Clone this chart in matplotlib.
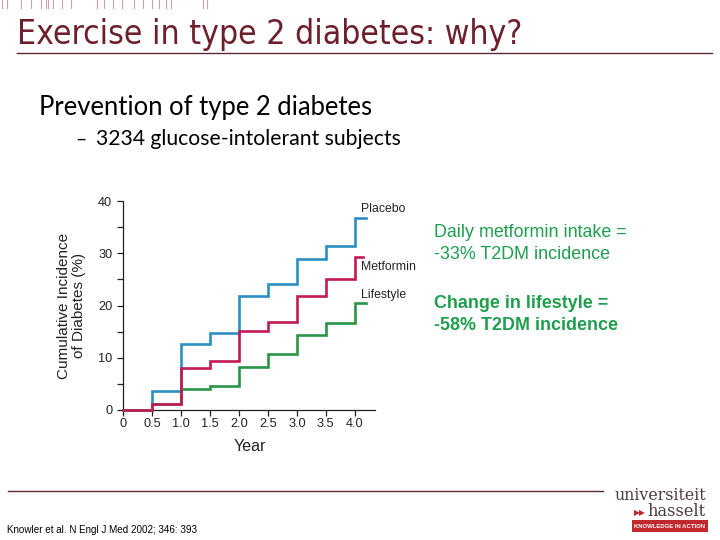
import matplotlib
matplotlib.use("Agg")
import matplotlib.pyplot as plt
from matplotlib.lines import Line2D
from matplotlib.patches import Rectangle

# ---------------- data ----------------
years = [0, 0.5, 1.0, 1.5, 2.0, 2.5, 3.0, 3.5, 4.0]
placebo = [0, 3.6, 12.6, 14.7, 21.8, 24.1, 28.9, 31.4, 36.8]
metformin = [0, 1.1, 8.0, 9.4, 15.2, 16.8, 21.8, 25.0, 29.3]
lifestyle = [0, 1.1, 4.0, 4.6, 8.3, 10.7, 14.3, 16.7, 20.4]
series_names = ["Placebo", "Metformin", "Lifestyle"]
series_end = [4.2, 4.14, 4.2]
label_y = [38.4, 27.3, 22.0]
x_ticks = [0, 0.5, 1.0, 1.5, 2.0, 2.5, 3.0, 3.5, 4.0]
x_tick_labels = ["0", "0.5", "1.0", "1.5", "2.0", "2.5", "3.0", "3.5", "4.0"]
y_ticks = [0, 10, 20, 30, 40]

W, H = 720, 540
fig = plt.figure(figsize=(W / 100, H / 100), dpi=100)


def fx(x):
    return x / W


def fy(y):
    return 1 - y / H


renderer = fig.canvas.get_renderer()


def fit_width(t, width_px):
    bb = t.get_window_extent(renderer)
    t.set_fontsize(t.get_fontsize() * width_px / bb.width)


# ---------------- slide decoration ----------------
deco_x = [2, 7, 21, 31, 41, 46, 48, 53, 62, 71, 97, 104, 113, 122, 134, 143,
          152, 159, 166, 171, 203, 207]
for xx in deco_x:
    fig.add_artist(Line2D([fx(xx), fx(xx)], [fy(0), fy(8)], color="#c9a3a8",
                          lw=0.8))

maroon = "#6d1f2c"
t = fig.text(fx(17), fy(44), "Exercise in type 2 diabetes: why?", color=maroon,
             family="DejaVu Sans", fontstretch="condensed", fontsize=20,
             va="baseline", ha="left")
fit_width(t, 505)
fig.add_artist(Line2D([fx(17), fx(712)], [fy(52.5), fy(52.5)], color="#5a2a30",
                      lw=1.0))

t = fig.text(fx(39), fy(115), "Prevention of type 2 diabetes", color="black",
             family="Lato", fontsize=16, va="baseline", ha="left")
fit_width(t, 334)
fig.text(fx(75), fy(145), "–", color="black", family="Lato", fontsize=14,
         va="baseline", ha="left")
t = fig.text(fx(96), fy(145), "3234 glucose-intolerant subjects", color="black",
             family="Lato", fontsize=13, va="baseline", ha="left")
fit_width(t, 303)

green_txt = "#1f9e4e"
fig.text(fx(434), fy(237), "Daily metformin intake =", color=green_txt,
         family="Liberation Sans", fontsize=12.9, va="baseline", ha="left")
fig.text(fx(434), fy(259), "-33% T2DM incidence", color=green_txt,
         family="Liberation Sans", fontsize=12.9, va="baseline", ha="left")
fig.text(fx(434), fy(308), "Change in lifestyle =", color=green_txt,
         family="Liberation Sans", fontsize=12.9, va="baseline", ha="left",
         fontweight="bold")
fig.text(fx(434), fy(330), "-58% T2DM incidence", color=green_txt,
         family="Liberation Sans", fontsize=12.9, va="baseline", ha="left",
         fontweight="bold")

fig.add_artist(Line2D([fx(8), fx(603)], [fy(491), fy(491)], color="#5a2a30",
                      lw=1.0))
t = fig.text(fx(7), fy(533), "Knowler et al. N Engl J Med 2002; 346: 393",
             color="black", family="Liberation Sans", fontsize=7,
             va="baseline", ha="left")
fit_width(t, 191)

# logo
logo_col = "#4b3b3d"
t = fig.text(fx(706), fy(500), "universiteit", color=logo_col,
             family="DejaVu Serif", fontsize=11, va="baseline", ha="right")
fit_width(t, 92)
t = fig.text(fx(706), fy(516), "hasselt", color=logo_col,
             family="DejaVu Serif", fontsize=11, va="baseline", ha="right")
fit_width(t, 58)
fig.text(fx(646), fy(515), "▶▶", color="#c0282d", family="DejaVu Sans",
         fontsize=5.5, va="baseline", ha="right")
fig.add_artist(Rectangle((fx(632), fy(532)), fx(708) - fx(632),
                         fy(520) - fy(532), transform=fig.transFigure,
                         color="#c0282d", lw=0))
t = fig.text(fx(670), fy(526), "KNOWLEDGE IN ACTION", color="white",
             family="Liberation Sans", fontsize=4.5, va="center", ha="center",
             fontweight="bold")
fit_width(t, 72)

# ---------------- chart ----------------
ax_left, ax_right = 123.3, 375.0
ax_top, ax_bot = 201.0, 410.0
ax = fig.add_axes([fx(ax_left), fy(ax_bot), (ax_right - ax_left) / W,
                   (ax_bot - ax_top) / H])
ax.set_xlim(0, 4.35)
ax.set_ylim(0, 40)

colors = ["#2b8fc2", "#c21a52", "#2a9446"]
all_series = [placebo, metformin, lifestyle]
zorders = [3, 4, 2]
for name, vals, col, xe, zo, ly in zip(series_names, all_series, colors,
                                       series_end, zorders, label_y):
    xs = years + [xe]
    ys = vals + [vals[-1]]
    ax.step(xs, ys, where="post", color=col, lw=1.9, zorder=zo, clip_on=False,
            solid_joinstyle="miter")
    ax.text(4.1, ly, name, color="#222222", family="Liberation Sans",
            fontsize=8.8, va="center", ha="left")

for s in ["top", "right"]:
    ax.spines[s].set_visible(False)
for s in ["left", "bottom"]:
    ax.spines[s].set_linewidth(0.9)
    ax.spines[s].set_color("#222222")

ax.set_xticks(x_ticks)
ax.set_xticklabels(x_tick_labels)
ax.set_yticks(y_ticks)
ax.set_yticks([5, 15, 25, 35], minor=True)
ax.tick_params(axis="both", which="both", direction="out", length=4,
               width=0.9, colors="#222222", labelsize=9.2)
ax.tick_params(axis="x", pad=2)
ax.tick_params(axis="y", pad=4)
for lab in ax.get_xticklabels() + ax.get_yticklabels():
    lab.set_family("Liberation Sans")

ax.set_xlabel("Year", family="Liberation Sans", fontsize=11.5, color="#222222")
ax.xaxis.set_label_coords(0.503, -0.177)
ax.xaxis.label.set_va("center")
ax.set_ylabel("Cumulative Incidence\nof Diabetes (%)", family="Liberation Sans",
              fontsize=11, color="#222222", linespacing=1.05)
ax.yaxis.set_label_coords((71.5 - ax_left) / (ax_right - ax_left), 0.5)
ax.yaxis.label.set_va("center")

fig.savefig("out.png", dpi=100)
